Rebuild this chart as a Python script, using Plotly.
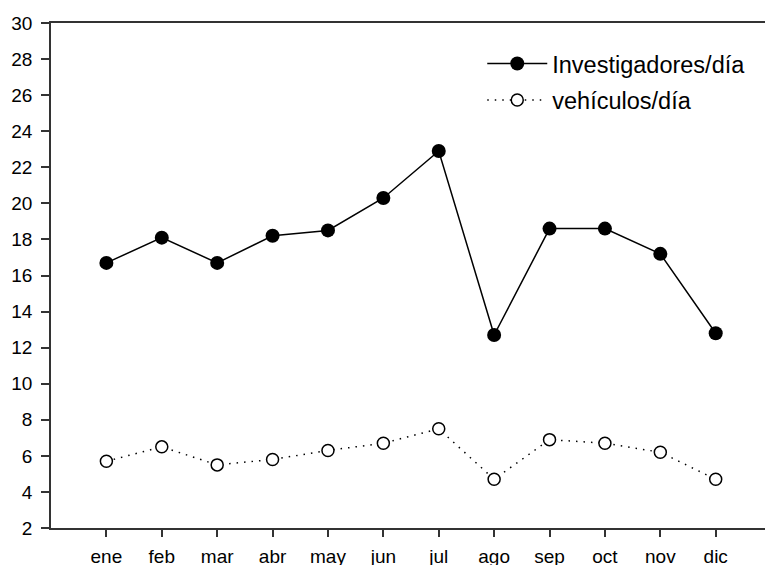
import plotly.graph_objects as go

months = ["ene", "feb", "mar", "abr", "may", "jun", "jul", "ago", "sep", "oct", "nov", "dic"]
investigadores = [16.7, 18.1, 16.7, 18.2, 18.5, 20.3, 22.9, 12.7, 18.6, 18.6, 17.2, 12.8]
vehiculos = [5.7, 6.5, 5.5, 5.8, 6.3, 6.7, 7.5, 4.7, 6.9, 6.7, 6.2, 4.7]
y_ticks = list(range(2, 31, 2))

x = list(range(len(months)))
fig = go.Figure()
fig.add_trace(go.Scatter(
    x=x, y=investigadores, mode="lines+markers", name="Investigadores/día",
    legendgroup="a",
    line=dict(color="black", width=1.5),
    marker=dict(symbol="circle", size=14, color="black"),
))
fig.add_trace(go.Scatter(
    x=x, y=vehiculos, mode="lines+markers", name="vehículos/día",
    legendgroup="b",
    line=dict(color="black", width=1.5, dash="1.5px,6px"),
    marker=dict(symbol="circle", size=12, color="white", line=dict(color="black", width=1.5)),
))

fig.update_layout(
    width=765, height=565,
    margin=dict(l=51, r=0, t=23, b=37),
    paper_bgcolor="white", plot_bgcolor="white",
    font=dict(family="Liberation Sans, Arial, sans-serif", color="black"),
    showlegend=True,
    legend=dict(
        x=0.604, y=0.963, xanchor="left", yanchor="top",
        font=dict(size=23.5, color="black"),
        bgcolor="rgba(0,0,0,0)", itemwidth=60, tracegroupgap=3,
        traceorder="grouped",
    ),
    xaxis=dict(
        range=[-1, 11.89], tickmode="array", tickvals=x, ticktext=months,
        showline=True, linecolor="#333", linewidth=1.5, mirror=True,
        ticks="outside", ticklen=7, tickwidth=1.5, tickcolor="#333",
        showgrid=False, zeroline=False, tickfont=dict(size=19),
        ticklabelstandoff=3, automargin=False,
    ),
    yaxis=dict(
        range=[2, 30], tickmode="array", tickvals=y_ticks,
        showline=True, linecolor="#333", linewidth=1.5,
        ticks="outside", ticklen=8, tickwidth=1.5, tickcolor="#333",
        showgrid=False, zeroline=False, tickfont=dict(size=19),
        ticklabelstandoff=5, automargin=False,
    ),
)

fig.write_html(
    "out.html",
    config={"displayModeBar": False},
    post_script="document.body.style.margin='0';document.body.style.overflow='hidden';",
)
